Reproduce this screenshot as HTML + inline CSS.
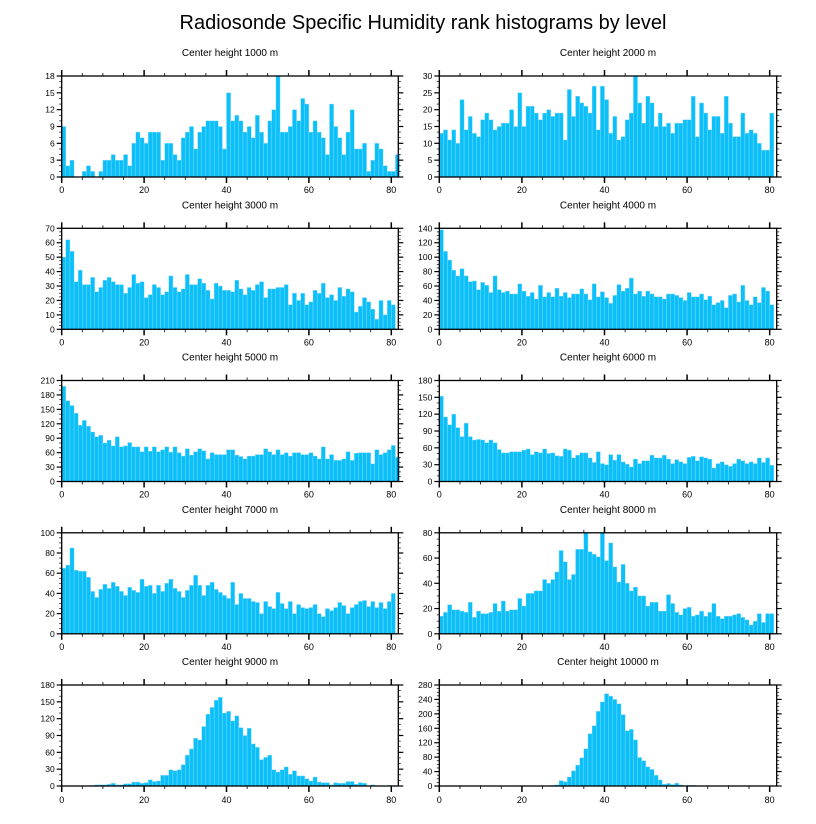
<!DOCTYPE html>
<html><head><meta charset="utf-8">
<style>
html,body{margin:0;padding:0;background:#fff;}
svg{display:block;font-family:"Liberation Sans",sans-serif;}
</style></head>
<body>
<svg id="chart" width="816" height="824" viewBox="0 0 816 824" xmlns="http://www.w3.org/2000/svg">
<text x="423" y="29" font-size="20" text-anchor="middle">Radiosonde Specific Humidity rank histograms by level</text>
</svg>
<script>
const panelTitles = ["Center height 1000 m","Center height 2000 m","Center height 3000 m","Center height 4000 m","Center height 5000 m","Center height 6000 m","Center height 7000 m","Center height 8000 m","Center height 9000 m","Center height 10000 m"];
const yMax = [18,30,70,140,210,180,100,80,180,280];
const yStep = [3,5,10,20,30,30,20,20,30,40];
const xTicks = [0,20,40,60,80];
const h1000 = [9,2,3,0,0,1,2,1,0,1,3,3,4,3,3,4,2,6,8,7,6,8,8,8,3,6,6,4,3,7,8,9,5,8,9,10,10,10,9,5,15,10,11,10,8,9,7,11,8,6,10,12,18,8,8,9,12,10,14,13,8,10,8,7,4,13,9,7,4,8,12,5,5,6,1,3,6,5,2,1,1,4];
const h2000 = [13,14,11,14,10,23,14,18,13,12,17,19,17,14,15,16,16,20,15,25,15,21,21,19,17,19,20,18,19,19,11,26,18,24,22,21,19,27,14,27,23,13,18,11,12,17,19,30,22,16,24,22,15,19,15,16,13,16,16,17,17,24,12,22,19,14,18,18,13,24,16,12,12,19,13,14,13,10,8,8,19];
const h3000 = [50,62,54,33,41,31,31,36,26,29,34,36,33,31,31,25,29,38,32,33,22,24,31,29,24,26,37,29,26,28,38,31,31,35,32,27,21,32,30,27,27,26,34,28,24,29,27,31,33,22,28,28,29,29,31,17,25,20,25,17,19,27,25,32,22,24,20,29,23,28,26,12,16,22,19,14,7,20,10,20,17];
const h4000 = [138,108,96,82,74,84,74,66,67,55,65,61,51,74,55,51,53,49,49,63,53,46,51,42,61,45,51,45,57,46,51,44,49,49,56,49,41,63,45,52,44,36,47,62,53,57,71,49,53,46,53,49,45,45,42,49,49,47,44,40,51,45,45,49,41,46,34,37,40,30,47,49,38,61,40,34,45,37,58,53,34];
const h5000 = [198,168,158,142,117,127,115,103,93,96,80,86,74,93,72,74,81,72,72,62,72,63,72,62,66,72,61,72,60,53,68,55,62,68,64,47,60,56,56,56,66,66,55,52,47,53,53,56,56,68,62,56,66,56,60,53,60,60,56,56,60,53,47,72,47,56,44,44,47,62,44,59,60,60,60,37,66,56,60,66,75,50];
const h6000 = [152,115,101,120,96,80,104,80,74,75,74,69,74,69,57,51,51,53,53,53,56,58,48,53,51,58,50,51,46,45,58,56,42,47,51,51,42,34,53,32,30,48,38,48,35,31,26,40,32,37,37,47,42,42,47,40,32,39,35,32,43,45,37,44,42,40,24,32,35,30,27,32,40,37,32,35,32,42,34,42,29];
const h7000 = [65,68,85,63,62,62,56,42,36,44,49,45,51,47,42,38,46,43,41,54,47,48,40,48,42,50,54,45,42,36,43,48,58,48,38,48,51,44,41,38,35,51,29,40,35,35,32,31,20,32,27,25,41,30,25,32,20,29,26,25,26,29,20,17,25,23,26,31,28,20,26,29,32,33,27,32,26,31,25,32,40];
const h8000 = [14,17,23,19,19,18,17,25,13,18,16,16,17,24,18,26,18,19,19,28,22,32,32,34,34,43,40,43,49,66,57,43,47,67,67,80,65,63,61,80,58,72,53,41,55,40,34,37,30,30,22,25,25,18,18,31,24,17,15,20,21,14,15,18,14,17,24,14,12,14,14,15,16,13,11,7,10,16,9,16,16];
const h9000 = [0,0,0,0,0,0,0,1,2,2,2,3,5,2,2,4,4,7,7,5,6,11,8,9,19,19,29,27,29,38,55,66,85,82,106,128,140,153,158,130,133,116,125,104,90,103,75,69,47,51,55,29,25,29,34,21,27,18,18,13,9,16,7,6,6,2,6,5,5,8,8,3,6,5,0,2,0,0,0,1,1,0];
const h10000 = [0,0,0,0,0,0,0,0,0,0,0,0,0,0,0,0,0,1,0,0,0,0,0,0,1,0,1,2,3,15,12,25,42,58,78,103,145,167,207,233,256,249,240,228,198,153,157,128,79,70,53,46,30,17,5,7,4,8,3,1,2,2,1,0,0,0,0,1,0,1,1,0,0,0,1,1,0,0,0,0,0,0];
const series = [h1000,h2000,h3000,h4000,h5000,h6000,h7000,h8000,h9000,h10000];

const NS="http://www.w3.org/2000/svg";
const svg=document.getElementById('chart');
function mk(tag,attrs,parent){const e=document.createElementNS(NS,tag);for(const k in attrs)e.setAttribute(k,attrs[k]);(parent||svg).appendChild(e);return e;}

const X_MAX=81.7, PH=101, PW=[337,337];
const LEFTS=[61.7,439.3], TOPS=[76,228.3,380.5,532.8,685];
for(let p=0;p<10;p++){
  const col=p%2,row=Math.floor(p/2);
  const x0=LEFTS[col], w=(col?337.4:336.6), top=TOPS[row], base=top+PH;
  const xs=v=>x0+v*w/X_MAX;
  const ys=v=>base-v/yMax[p]*PH;
  const g=mk('g',{});
  
  
  const t=mk('text',{x:x0+w/2,y:top-20,'font-size':10,'text-anchor':'middle'},g);
  t.textContent=panelTitles[p];
  
  
  const data=series[p];
  for(let i=0;i<data.length;i++){
    if(data[i]<=0) continue;
    const r=mk('rect',{x:xs(i),y:ys(data[i]),width:xs(i+1)-xs(i),height:base-ys(data[i]),fill:'#0bbff8',stroke:'#8fdcff','stroke-width':0.4},g);
    
    
  }
  const fr=mk('rect',{x:x0,y:top,width:w,height:PH,fill:'none',stroke:'#000','stroke-width':1.3},g);
  
  
  // x ticks
  for(let v=0;v<=X_MAX;v+=5){
    const major=v%20===0, L=major?6:3, xx=xs(v);
    mk('line',{x1:xx,x2:xx,y1:base,y2:base+L,stroke:'#000','stroke-width':major?1.5:0.8},g);
    mk('line',{x1:xx,x2:xx,y1:top,y2:top-L,stroke:'#000','stroke-width':major?1.5:0.8},g);
  }
  xTicks.forEach(v=>{
    const tl=mk('text',{x:xs(v),y:base+(row===4?17:16),'font-size':9,'text-anchor':'middle'},g);
    tl.textContent=v;
    
    
  });
  // y ticks
  const minor=yStep[p]/ (p===0||p===1?3:(yStep[p]%3===0?3:4));
  for(let v=0;v<=yMax[p]+1e-6;v+=minor){
    const isMaj=Math.abs(v/yStep[p]-Math.round(v/yStep[p]))<1e-6, L=isMaj?5:2.5, yy=ys(v);
    mk('line',{x1:x0,x2:x0-L,y1:yy,y2:yy,stroke:'#000','stroke-width':isMaj?1.2:0.7},g);
    mk('line',{x1:x0+w,x2:x0+w+L,y1:yy,y2:yy,stroke:'#000','stroke-width':isMaj?1.2:0.7},g);
  }
  for(let v=0;v<=yMax[p];v+=yStep[p]){
    const tl=mk('text',{x:x0-7,y:ys(v)+3,'font-size':8.5,'text-anchor':'end'},g);
    tl.textContent=v;
    
    
  }
}
</script>
</body></html>
